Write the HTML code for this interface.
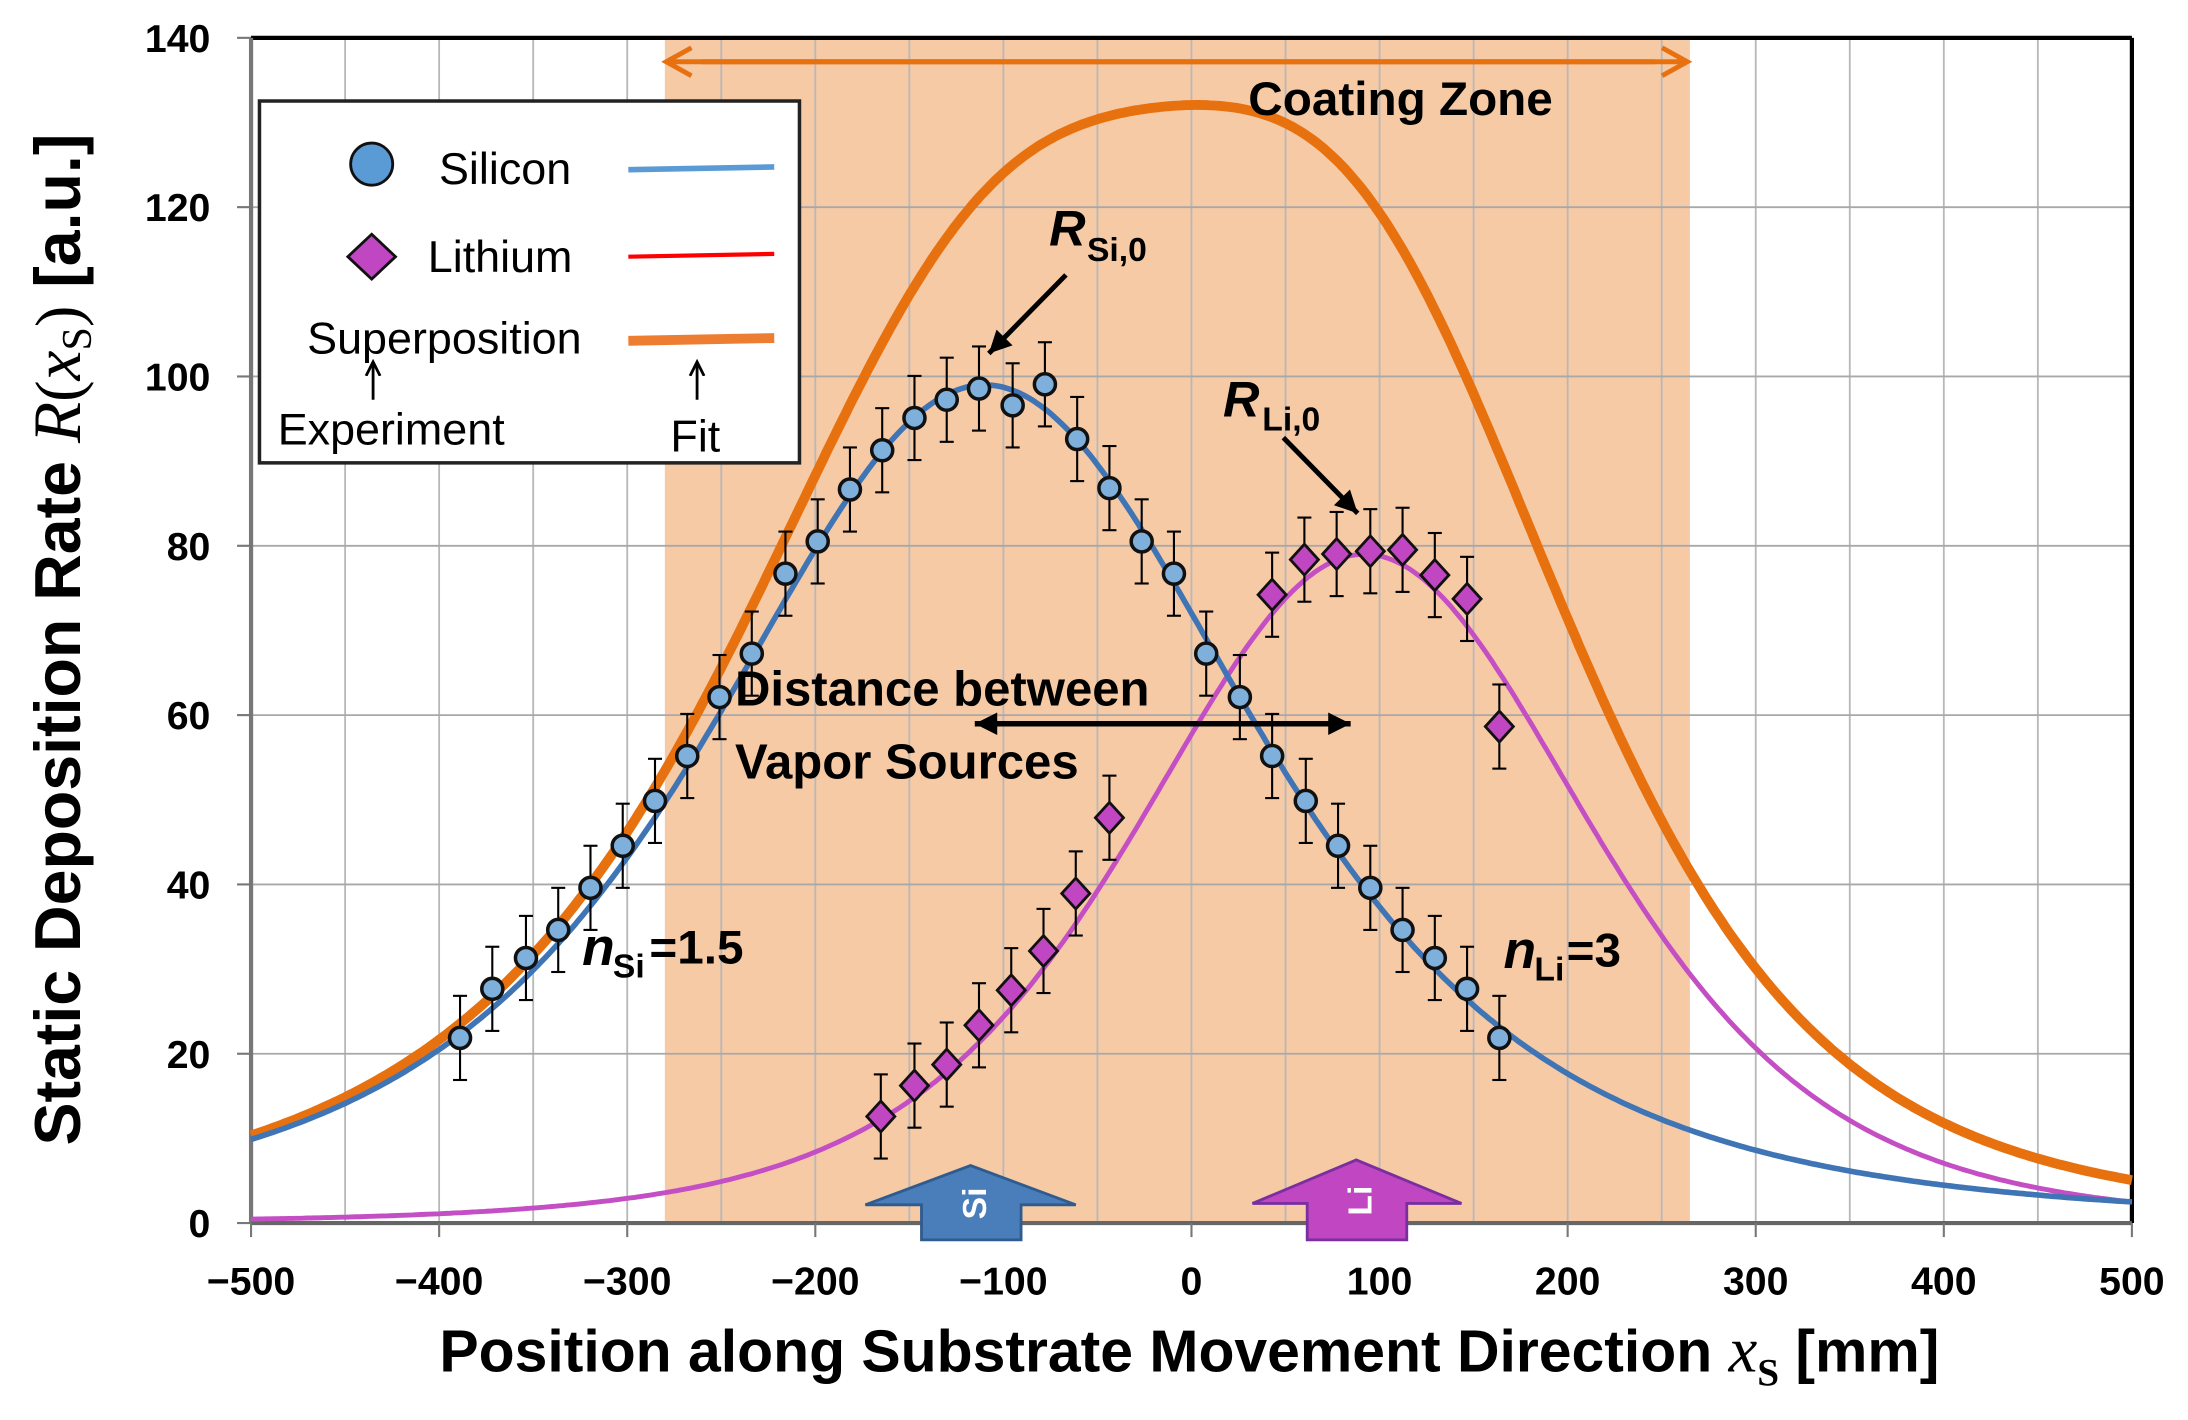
<!DOCTYPE html>
<html><head><meta charset="utf-8"><style>
html,body{margin:0;padding:0;background:#fff;}
svg{display:block;}
text{font-family:"Liberation Sans",Arial,sans-serif;}
.t{font-family:"Liberation Sans",sans-serif;font-weight:bold;font-size:28px;}
.c{font-family:"Liberation Sans Narrow","Liberation Sans",sans-serif;}
</style></head><body>
<svg id="s" width="2188" height="1420" viewBox="0 0 1560 1012.4" xmlns="http://www.w3.org/2000/svg">
<g id="bg"></g>
<g id="grid"></g>
<g id="curves"></g>
<g id="pts"></g>
<g id="labels"></g>
</svg>
<script>
var NS="http://www.w3.org/2000/svg",s=document.getElementById('s');
function X(m){return 179+(m+500)*1.341;}
function Y(v){return 872-v*6.036;}
function el(p,tag,a,txt){var e=document.createElementNS(NS,tag);for(var k in a)e.setAttribute(k,a[k]);if(txt!=null)e.textContent=txt;document.getElementById(p).appendChild(e);return e;}
el('bg','rect',{x:X(-280),y:Y(140),width:X(265)-X(-280),height:Y(0)-Y(140),fill:'#f7caa6'});
for(var m=-450;m<500;m+=50)el('grid','line',{x1:X(m),y1:Y(140),x2:X(m),y2:Y(0),stroke:'#b8b8b8','stroke-width':1.3});
for(var v=20;v<140;v+=20)el('grid','line',{x1:X(-500),y1:Y(v),x2:X(500),y2:Y(v),stroke:'#a8a8a8','stroke-width':1.3});
el('grid','line',{x1:X(-500),y1:Y(140),x2:X(500),y2:Y(140),stroke:'#000','stroke-width':3});
el('grid','line',{x1:X(500),y1:Y(140),x2:X(500),y2:Y(0),stroke:'#000','stroke-width':3});
el('grid','line',{x1:X(-500),y1:Y(140),x2:X(-500),y2:Y(0),stroke:'#777','stroke-width':3});
el('grid','line',{x1:X(-500),y1:Y(0),x2:X(500),y2:Y(0),stroke:'#666','stroke-width':3});
for(var m=-500;m<=500;m+=100){el('grid','line',{x1:X(m),y1:Y(0),x2:X(m),y2:Y(0)+10,stroke:'#777','stroke-width':1.5});
 el('labels','text',{x:X(m),y:923,'text-anchor':'middle','class':'t'},(m<0?'\u2212':'')+Math.abs(m));}
for(var v=0;v<=140;v+=20){el('grid','line',{x1:X(-500)-10,y1:Y(v),x2:X(-500),y2:Y(v),stroke:'#777','stroke-width':1.5});
 el('labels','text',{x:150,y:Y(v)+10,'text-anchor':'end','class':'t'},v);}
function si(x){var u=Math.pow((x+110)/265,2);return 99/Math.pow(1+u,2);}
function li(x){var u=Math.pow((x-92)/277,2);return 79/Math.pow(1+u,3);}
function path(f){var d='';for(var x=-500;x<=500;x+=2){d+=(x==-500?'M':'L')+X(x).toFixed(1)+','+Y(f(x)).toFixed(1);}return d;}
el('curves','path',{d:path(function(x){return si(x)+li(x)*1.04;}),fill:'none',stroke:'#e8710f','stroke-width':7});
el('curves','path',{d:path(li),fill:'none',stroke:'#c44ec4','stroke-width':3.5});
el('curves','path',{d:path(si),fill:'none',stroke:'#3f74b5','stroke-width':4});
var S=[[328,740],[351,705],[375,683],[398,663],[421,633],[444,603],[467,571],[490,539],[513,497],[536,466],[560,409],[583,386],[606,349],[629,321],[652,298],[675,285],[698,277],[722,289],[745,274],[768,313],[791,348],[814,386],[837,409],[860,466],[884,497],[907,539],[931,571],[954,603],[977,633],[1000,663],[1023,683],[1046,705],[1069,740]];
var L=[[628,796],[652,774],[675,759],[698,731],[721,706],[744,678],[767,637],[791,583],[907,424],[930,399],[953,395],[977,393],[1000,392],[1023,410],[1046,427],[1069,518]];
function eb(x,y){el('pts','line',{x1:x,y1:y-30,x2:x,y2:y+30,stroke:'#000','stroke-width':1.5});
 el('pts','line',{x1:x-5,y1:y-30,x2:x+5,y2:y-30,stroke:'#000','stroke-width':1.5});
 el('pts','line',{x1:x-5,y1:y+30,x2:x+5,y2:y+30,stroke:'#000','stroke-width':1.5});}
S.forEach(function(p){eb(p[0],p[1]);el('pts','circle',{cx:p[0],cy:p[1],r:7.5,fill:'#7fb0dc',stroke:'#111','stroke-width':2.5});});
L.forEach(function(p){eb(p[0],p[1]);var x=p[0],y=p[1];el('pts','path',{d:'M'+x+','+(y-11)+'L'+(x+10)+','+y+'L'+x+','+(y+11)+'L'+(x-10)+','+y+'Z',fill:'#c146c1',stroke:'#111','stroke-width':2});});
</script>
<svg style="position:absolute;left:0;top:0" width="2188" height="1420" viewBox="0 0 1560 1012.4" xmlns="http://www.w3.org/2000/svg">
<defs>
<marker id="ah2" markerWidth="12" markerHeight="12" refX="10" refY="6" orient="auto" markerUnits="userSpaceOnUse"><path d="M0,1 L10,6 L0,11" fill="none" stroke="#000" stroke-width="2"/></marker>
<marker id="ao2" markerWidth="24" markerHeight="24" refX="20" refY="12" orient="auto" markerUnits="userSpaceOnUse"><path d="M2,2 L20,12 L2,22" fill="none" stroke="#e8710f" stroke-width="3.5"/></marker>
<marker id="ab2" markerWidth="24" markerHeight="24" refX="20" refY="12" orient="auto" markerUnits="userSpaceOnUse"><path d="M4,4 L20,12 L4,20 Z" fill="#000"/></marker>
</defs>
<line x1="500" y1="44" x2="1203" y2="44" stroke="#e8710f" stroke-width="3.5" marker-end="url(#ao2)"/>
<line x1="1180" y1="44" x2="475" y2="44" stroke="#e8710f" stroke-width="3.5" marker-end="url(#ao2)"/>
<text x="890" y="82" class="c" font-size="34" font-weight="bold">Coating Zone</text>
<rect x="185" y="72" width="385" height="258" fill="#fff" stroke="#222" stroke-width="2.5"/>
<circle cx="265" cy="117" r="15" fill="#5b9bd5" stroke="#111" stroke-width="2"/>
<text x="313" y="131" class="c" font-size="32">Silicon</text>
<line x1="448" y1="121" x2="552" y2="119" stroke="#5b9bd5" stroke-width="4"/>
<path d="M265,167 L282,183 L265,199 L248,183 Z" fill="#c146c1" stroke="#111" stroke-width="2"/>
<text x="305" y="194" class="c" font-size="32">Lithium</text>
<line x1="448" y1="183" x2="552" y2="181" stroke="#ff0000" stroke-width="3"/>
<text x="219" y="252" class="c" font-size="32">Superposition</text>
<line x1="448" y1="243" x2="552" y2="241" stroke="#ed7d31" stroke-width="7"/>
<line x1="266" y1="285" x2="266" y2="258" stroke="#000" stroke-width="2" marker-end="url(#ah2)"/>
<line x1="497" y1="285" x2="497" y2="258" stroke="#000" stroke-width="2" marker-end="url(#ah2)"/>
<text x="198" y="317" class="c" font-size="32">Experiment</text>
<text x="478" y="322" class="c" font-size="32">Fit</text>
<text x="748" y="175" font-family="Liberation Serif,serif" font-style="italic" font-weight="bold" font-size="36">R</text>
<text x="775" y="186" font-family="Liberation Serif,serif" font-weight="bold" font-size="24">Si,0</text>
<line x1="760" y1="196" x2="705" y2="252" stroke="#000" stroke-width="3.5" marker-end="url(#ab2)"/>
<text x="872" y="297" font-family="Liberation Serif,serif" font-style="italic" font-weight="bold" font-size="36">R</text>
<text x="900" y="307" font-family="Liberation Serif,serif" font-weight="bold" font-size="24">Li,0</text>
<line x1="915" y1="312" x2="968" y2="366" stroke="#000" stroke-width="3.5" marker-end="url(#ab2)"/>
<text x="524" y="503" class="c" font-size="35" font-weight="bold">Distance between</text>
<text x="524" y="555" class="c" font-size="35" font-weight="bold">Vapor Sources</text>
<line x1="830" y1="516" x2="695" y2="516" stroke="#000" stroke-width="4" marker-end="url(#ab2)"/>
<line x1="820" y1="516" x2="963" y2="516" stroke="#000" stroke-width="4" marker-end="url(#ab2)"/>
<text x="415" y="688" font-family="Liberation Serif,serif" font-style="italic" font-weight="bold" font-size="38">n</text>
<text x="437" y="697" font-family="Liberation Serif,serif" font-weight="bold" font-size="24">Si</text>
<text x="463" y="687" class="c" font-weight="bold" font-size="34">=1.5</text>
<text x="1072" y="690" font-family="Liberation Serif,serif" font-style="italic" font-weight="bold" font-size="38">n</text>
<text x="1094" y="699" font-family="Liberation Serif,serif" font-weight="bold" font-size="24">Li</text>
<text x="1117" y="689" class="c" font-weight="bold" font-size="34">=3</text>
<path d="M657,884 L657,859 L617,859 L692,831 L767,859 L728,859 L728,884 Z" fill="#4a7ebb" stroke="#2f5b8e" stroke-width="2"/>
<text transform="translate(703,858) rotate(-90)" text-anchor="middle" fill="#fff" font-weight="bold" font-size="24">Si</text>
<path d="M932,884 L932,858 L893,858 L967,827 L1042,858 L1003,858 L1003,884 Z" fill="#c146c1" stroke="#7a2fa0" stroke-width="2"/>
<text transform="translate(978,856) rotate(-90)" text-anchor="middle" fill="#fff" font-weight="bold" font-size="24">Li</text>
<text x="848" y="978" text-anchor="middle" font-weight="bold" font-size="42">Position along Substrate Movement Direction <tspan font-family="Liberation Serif,serif" font-style="italic" font-weight="normal" font-size="46">x</tspan><tspan font-family="Liberation Serif,serif" font-size="28" dy="10">S</tspan><tspan dy="-10">  [mm]</tspan></text>
<text transform="translate(57,456) rotate(-90)" text-anchor="middle" font-weight="bold" font-size="46">Static Deposition Rate <tspan font-family="Liberation Serif,serif" font-style="italic" font-weight="normal" font-size="48">R</tspan><tspan font-family="Liberation Serif,serif" font-weight="normal">(</tspan><tspan font-family="Liberation Serif,serif" font-style="italic" font-weight="normal" font-size="48">x</tspan><tspan font-family="Liberation Serif,serif" font-weight="normal" font-size="30" dy="8">S</tspan><tspan font-family="Liberation Serif,serif" font-weight="normal" dy="-8">)</tspan><tspan>  [a.u.]</tspan></text>
</svg>
</body></html>
